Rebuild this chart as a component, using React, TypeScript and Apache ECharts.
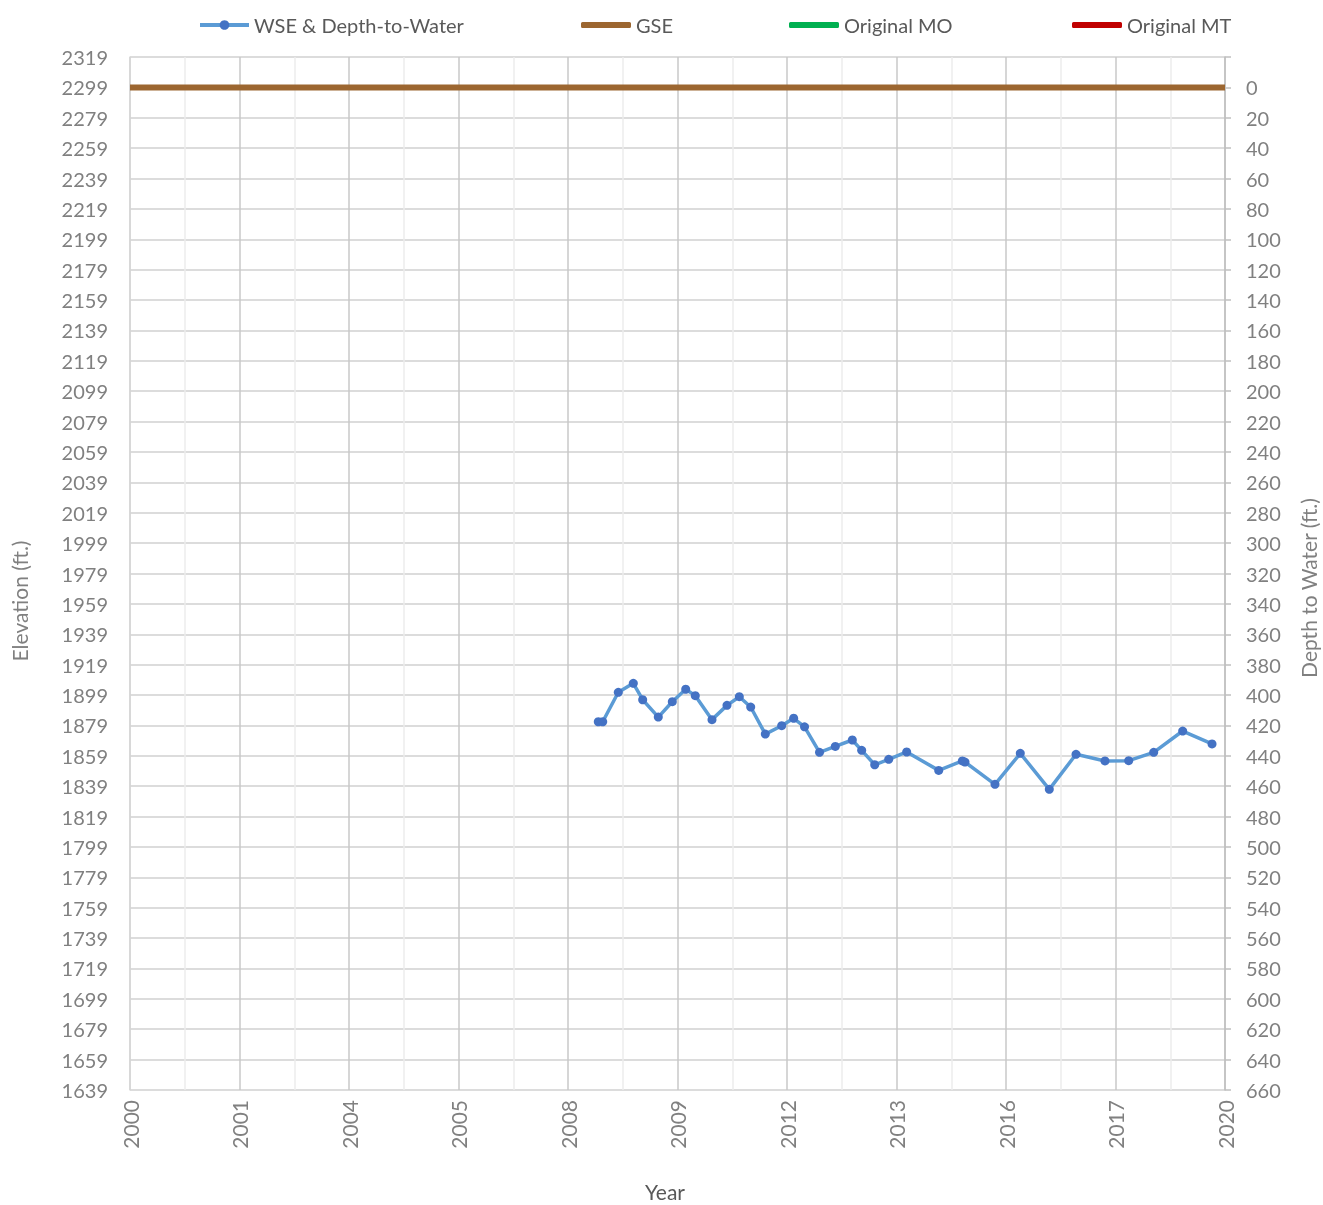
import React, { useEffect, useRef } from "react";
import * as echarts from "echarts";

const xTickLabels = ["2000", "2001", "2004", "2005", "2008", "2009", "2012", "2013", "2016", "2017", "2020"];

const wseDates = [
  2008.553, 2008.634, 2008.919, 2009.193, 2009.364, 2009.649, 2009.905, 2010.15, 2010.325,
  2010.63, 2010.904, 2011.129, 2011.337, 2011.604, 2011.903, 2012.122, 2012.32, 2012.594,
  2012.882, 2013.193, 2013.364, 2013.602, 2013.858, 2014.186, 2014.771, 2015.202, 2015.251,
  2015.799, 2016.261, 2016.791, 2017.279, 2017.808, 2018.241, 2018.698, 2019.227, 2019.763,
];
const wseElev = [
  1881.4, 1881.4, 1900.8, 1906.7, 1895.9, 1884.5, 1894.6, 1902.8, 1898.6,
  1882.8, 1892.2, 1897.9, 1891.1, 1873.3, 1878.8, 1883.7, 1878.1, 1861.3,
  1865.2, 1869.4, 1862.6, 1853.1, 1856.7, 1861.5, 1849.4, 1855.6, 1854.9,
  1840.2, 1860.6, 1836.9, 1860.0, 1855.6, 1855.8, 1861.3, 1875.3, 1866.8,
];
const gseDates = [2000, 2020];
const gseElev = [2299, 2299];

const FONT = "Lato";
const LABEL = "#808080";

export default function App() {
  const ref = useRef<HTMLDivElement>(null);
  useEffect(() => {
    document.body.style.margin = "0";
    document.body.style.overflow = "hidden";
    if (!ref.current) return;
    const chart = echarts.init(ref.current, undefined, { renderer: "svg" });
    const legendText = { color: "#595959", fontSize: 20, fontFamily: FONT };
    const barIcon = "roundRect";
    chart.setOption({
      animation: false,
      textStyle: { fontFamily: FONT },
      grid: { left: 130, right: 98, top: 57, bottom: 115, containLabel: false },
      legend: [
        {
          data: ["WSE & Depth-to-Water"],
          left: 193,
          top: 10,
          itemWidth: 49,
          itemHeight: 12,
          textStyle: legendText,
          lineStyle: { width: 4, color: "#5B9BD5" },
        },
        { data: [{ name: "GSE", icon: barIcon }], left: 576, top: 10, itemWidth: 50, itemHeight: 6, textStyle: legendText },
        { data: [{ name: "Original MO", icon: barIcon }], left: 784, top: 10, itemWidth: 50, itemHeight: 6, textStyle: legendText },
        { data: [{ name: "Original MT", icon: barIcon }], left: 1067, top: 10, itemWidth: 50, itemHeight: 6, textStyle: legendText },
      ],
      xAxis: {
        type: "value",
        min: 2000,
        max: 2020,
        interval: 2,
        axisLine: { show: true, lineStyle: { color: "#d9d9d9", width: 1.5 } },
        axisTick: { show: false },
        axisLabel: {
          rotate: 90,
          fontSize: 21,
          color: LABEL,
          fontFamily: FONT,
          margin: 10,
          formatter: (v: number) => xTickLabels[Math.round((v - 2000) / 2)] ?? "",
        },
        splitLine: { show: true, lineStyle: { color: "#c8c8c8", width: 1.5 } },
        minorTick: { show: false, splitNumber: 2 },
        minorSplitLine: { show: true, lineStyle: { color: "#ececec", width: 1.5 } },
      },
      yAxis: [
        {
          type: "value",
          min: 1639,
          max: 2319,
          interval: 20,
          axisLine: { show: true, lineStyle: { color: "#d9d9d9", width: 1.5 } },
          axisTick: { show: false },
          axisLabel: { fontSize: 20, color: LABEL, fontFamily: FONT, margin: 22, formatter: (v: number) => String(v) },
          splitLine: { show: true, lineStyle: { color: "#d0d0d0", width: 1.5 } },
        },
        {
          type: "value",
          min: -20,
          max: 660,
          interval: 20,
          inverse: true,
          position: "right",
          axisLine: { show: true, lineStyle: { color: "#bfbfbf", width: 1.5 } },
          axisTick: { show: true, length: 6, lineStyle: { color: "#bfbfbf", width: 1.5 } },
          axisLabel: {
            fontSize: 20,
            color: LABEL,
            fontFamily: FONT,
            margin: 21,
            formatter: (v: number) => (v < 0 ? "" : String(v)),
          },
          splitLine: { show: false },
        },
      ],
      series: [
        {
          name: "WSE & Depth-to-Water",
          type: "line",
          yAxisIndex: 0,
          data: wseDates.map((d, i) => [d, wseElev[i]]),
          symbol: "circle",
          symbolSize: 9,
          itemStyle: { color: "#4472C4" },
          lineStyle: { color: "#5B9BD5", width: 3.5 },
          z: 5,
        },
        {
          name: "GSE",
          type: "line",
          yAxisIndex: 0,
          data: gseDates.map((d, i) => [d, gseElev[i]]),
          symbol: "none",
          itemStyle: { color: "#9C6630" },
          lineStyle: { color: "#9C6630", width: 6 },
          z: 4,
        },
        {
          name: "Original MO",
          type: "line",
          data: [],
          symbol: "none",
          itemStyle: { color: "#00B050" },
          lineStyle: { color: "#00B050", width: 4 },
        },
        {
          name: "Original MT",
          type: "line",
          data: [],
          symbol: "none",
          itemStyle: { color: "#C00000" },
          lineStyle: { color: "#C00000", width: 4 },
        },
      ],
      graphic: [
        {
          type: "text",
          x: 19,
          y: 601,
          rotation: Math.PI / 2,
          style: { text: "Elevation (ft.)", fontSize: 21, fill: LABEL, fontFamily: FONT, align: "center", verticalAlign: "middle" },
        },
        {
          type: "text",
          x: 1308,
          y: 588,
          rotation: Math.PI / 2,
          style: { text: "Depth to Water (ft.)", fontSize: 21, fill: LABEL, fontFamily: FONT, align: "center", verticalAlign: "middle" },
        },
        {
          type: "text",
          x: 665,
          y: 1191,
          style: { text: "Year", fontSize: 21, fill: "#595959", fontFamily: FONT, align: "center", verticalAlign: "middle" },
        },
      ],
    });
    return () => chart.dispose();
  }, []);
  return <div ref={ref} style={{ position: "fixed", left: 0, top: 0, width: 1323, height: 1205 }} />;
}
